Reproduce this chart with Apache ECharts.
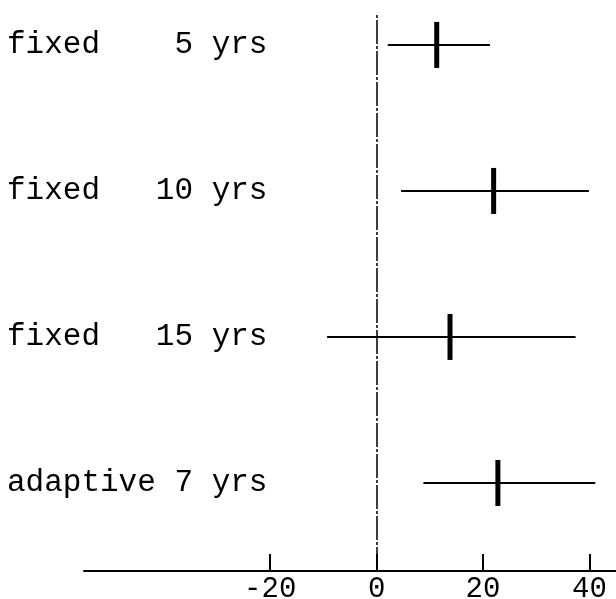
<!DOCTYPE html>
<html>
<head>
<meta charset="utf-8">
<script src="https://cdn.jsdelivr.net/npm/echarts@6/dist/echarts.min.js"></script>
<style>
  html, body { margin: 0; padding: 0; background: #fff; }
  #chart { width: 616px; height: 599px; }
</style>
</head>
<body>
<div id="chart"></div>
<script>
// rows, top to bottom
var rowLabels = ['fixed    5 yrs', 'fixed   10 yrs', 'fixed   15 yrs', 'adaptive 7 yrs'];
var rowPos = [4, 3, 2, 1];
var estimate = [11.3, 22.0, 13.8, 22.8];
var lower = [2.1, 4.6, -9.3, 8.8];
var upper = [21.3, 39.9, 37.4, 41.1];
var xTicks = [-20, 0, 20, 40];

var chart = echarts.init(document.getElementById('chart'));

var ciData = [];
var pointData = [];
for (var i = 0; i < rowLabels.length; i++) {
    ciData.push([lower[i], upper[i], rowPos[i]]);
    pointData.push([estimate[i], rowPos[i]]);
}

var option = {
    animation: false,
    backgroundColor: '#fff',
    grid: {
        left: 84,
        right: 0,
        top: 15,
        bottom: 28,
        containLabel: false,
        outerBoundsMode: 'none'
    },
    xAxis: {
        type: 'value',
        min: -55,
        max: 45,
        axisLine: { show: true, lineStyle: { color: '#000', width: 2 } },
        axisTick: {
            show: true,
            inside: true,
            length: 17,
            customValues: xTicks,
            lineStyle: { color: '#000', width: 2 }
        },
        axisLabel: {
            customValues: xTicks,
            margin: 4,
            color: '#000',
            fontFamily: 'Liberation Mono',
            fontSize: 29
        },
        splitLine: { show: false }
    },
    yAxis: {
        type: 'value',
        min: 0.397,
        max: 4.205,
        axisLine: { show: false },
        axisTick: { show: false },
        splitLine: { show: false },
        axisLabel: {
            customValues: rowPos,
            align: 'left',
            margin: 77,
            color: '#000',
            fontFamily: 'Liberation Mono',
            fontSize: 31,
            formatter: function (v) {
                return rowLabels[rowPos.indexOf(v)];
            }
        }
    },
    series: [
        {
            type: 'custom',
            data: ciData,
            encode: { x: [0, 1], y: 2 },
            renderItem: function (params, api) {
                var a = api.coord([api.value(0), api.value(2)]);
                var b = api.coord([api.value(1), api.value(2)]);
                return {
                    type: 'line',
                    shape: { x1: a[0], y1: a[1], x2: b[0], y2: b[1] },
                    style: { stroke: '#000', lineWidth: 2 }
                };
            },
            silent: true
        },
        {
            type: 'scatter',
            data: pointData,
            symbol: 'rect',
            symbolSize: [5, 46],
            itemStyle: { color: '#000', opacity: 1 },
            silent: true,
            markLine: {
                silent: true,
                symbol: 'none',
                label: { show: false },
                lineStyle: { color: '#000', width: 1.5, type: [24, 2, 3, 2] },
                data: [{ xAxis: 0 }]
            }
        }
    ]
};
chart.setOption(option);

window.onresize = chart.resize;
</script>
</body>
</html>
